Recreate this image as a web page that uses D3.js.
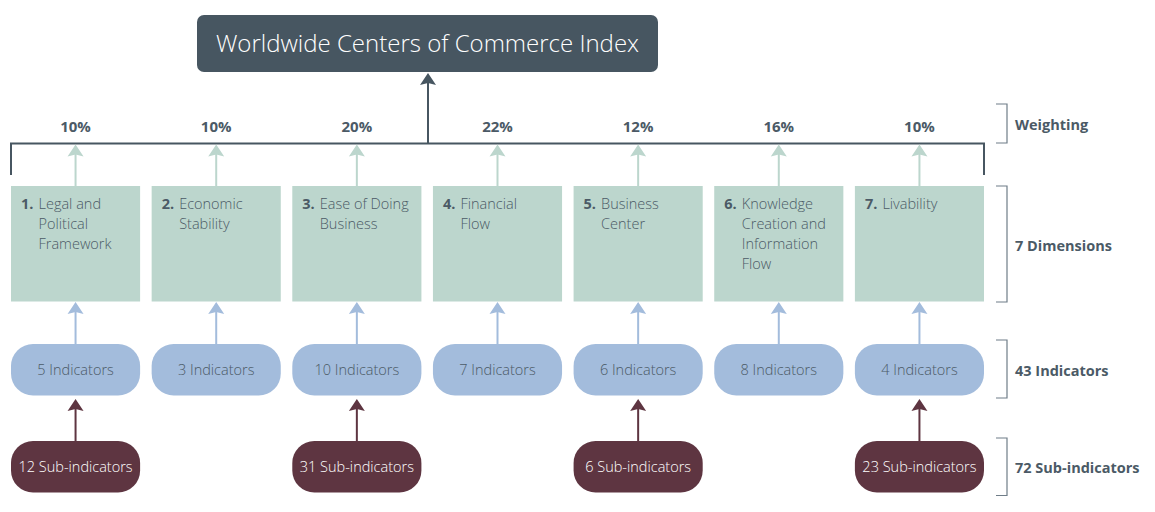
<!DOCTYPE html>
<html>
<head>
<meta charset="utf-8">
<script src="https://cdn.jsdelivr.net/npm/d3@7"></script>
<style>
  html, body { margin: 0; padding: 0; background: #fff; }
  svg { display: block; font-family: "Open Sans", "Noto Sans", sans-serif; }
</style>
</head>
<body>
<svg id="chart" width="1155" height="512"></svg>
<script>
// ---- data ----
const title = "Worldwide Centers of Commerce Index";
const dimNumbers = ["1.", "2.", "3.", "4.", "5.", "6.", "7."];
const dimLines = [
  ["Legal and", "Political", "Framework"],
  ["Economic", "Stability"],
  ["Ease of Doing", "Business"],
  ["Financial", "Flow"],
  ["Business", "Center"],
  ["Knowledge", "Creation and", "Information", "Flow"],
  ["Livability"]
];
const weights = [10, 10, 20, 22, 12, 16, 10];
const indicators = [5, 3, 10, 7, 6, 8, 4];
const subIndicators = [12, null, 31, null, 6, null, 23];
const levelLabels = ["Weighting", "7 Dimensions", "43 Indicators", "72 Sub-indicators"];

// ---- styles ----
const C = {
  dark: "#475661",
  text: "#4b5a66",
  green: "#bcd6cd",
  blue: "#a3bcdc",
  maroon: "#5e3541",
  bracket: "#6f7d88"
};

const svg = d3.select("#chart");
const x = d3.scaleBand().domain(d3.range(dimNumbers.length)).range([11, 984]).paddingInner(0.082);
const bw = x.bandwidth();
const cx = i => x(i) + bw / 2;

// row geometry
const Y = { lineY: 143.5, dimTop: 186, dimBot: 301.5, indTop: 344, indBot: 395.5, subTop: 441, subBot: 492.5 };

function arrowHead(g, xc, tipY, color, w = 16, h = 12) {
  g.append("path")
    .attr("d", `M${xc},${tipY} L${xc + w / 2},${tipY + h} L${xc},${tipY + h - 2} L${xc - w / 2},${tipY + h} Z`)
    .attr("fill", color);
}
function arrow(g, xc, fromY, tipY, color) {
  g.append("line").attr("x1", xc).attr("x2", xc).attr("y1", fromY).attr("y2", tipY + 8)
    .attr("stroke", color).attr("stroke-width", 2);
  arrowHead(g, xc, tipY, color);
}

// ---- title ----
const titleBox = { x0: 197, x1: 658, y0: 15, y1: 72 };
svg.append("rect").attr("x", titleBox.x0).attr("y", titleBox.y0)
  .attr("width", titleBox.x1 - titleBox.x0).attr("height", titleBox.y1 - titleBox.y0)
  .attr("rx", 7).attr("fill", C.dark);
svg.append("text").attr("x", (titleBox.x0 + titleBox.x1) / 2).attr("y", 42)
  .attr("text-anchor", "middle").attr("dominant-baseline", "central")
  .attr("fill", "#fff").attr("font-size", 24).attr("font-weight", 300).text(title);

// ---- top connector ----
const gTop = svg.append("g");
gTop.append("path")
  .attr("d", `M${x(0)},175 V${Y.lineY} H${x(6) + bw} V175`)
  .attr("fill", "none").attr("stroke", C.dark).attr("stroke-width", 2);
arrow(gTop, 428, Y.lineY, 73, C.dark);

// ---- weights ----
svg.append("g").selectAll("text").data(weights).join("text")
  .attr("x", (d, i) => cx(i)).attr("y", 125.5)
  .attr("text-anchor", "middle").attr("dominant-baseline", "central")
  .attr("font-size", 15).attr("font-weight", 700).attr("fill", C.text)
  .text(d => d + "%");

// ---- dimensions ----
const gDim = svg.append("g");
dimNumbers.forEach((num, i) => {
  arrow(gDim, cx(i), Y.dimTop, Y.lineY + 1, C.green);
  gDim.append("rect").attr("x", x(i)).attr("y", Y.dimTop).attr("width", bw)
    .attr("height", Y.dimBot - Y.dimTop).attr("fill", C.green);
  gDim.append("text").attr("x", x(i) + 10).attr("y", 209)
    .attr("font-size", 14.5).attr("font-weight", 700).attr("fill", C.text).text(num);
  const t = gDim.append("text").attr("font-size", 14.5).attr("fill", C.text).attr("font-weight", 300);
  dimLines[i].forEach((ln, j) => {
    t.append("tspan").attr("x", x(i) + 27.5).attr("y", 209 + j * 20).text(ln);
  });
});

// ---- indicators ----
const gInd = svg.append("g");
indicators.forEach((n, i) => {
  arrow(gInd, cx(i), Y.indTop, Y.dimBot + 0.5, C.blue);
  gInd.append("rect").attr("x", x(i)).attr("y", Y.indTop).attr("width", bw)
    .attr("height", Y.indBot - Y.indTop).attr("rx", 22).attr("fill", C.blue);
  gInd.append("text").attr("x", cx(i)).attr("y", (Y.indTop + Y.indBot) / 2 - 0.5)
    .attr("text-anchor", "middle").attr("dominant-baseline", "central")
    .attr("font-size", 14.5).attr("font-weight", 300).attr("fill", C.text)
    .text(n + " Indicators");
});

// ---- sub-indicators ----
const gSub = svg.append("g");
subIndicators.forEach((n, i) => {
  if (n == null) return;
  arrow(gSub, cx(i), Y.subTop, Y.indBot + 3.5, C.maroon);
  gSub.append("rect").attr("x", x(i)).attr("y", Y.subTop).attr("width", bw)
    .attr("height", Y.subBot - Y.subTop).attr("rx", 22).attr("fill", C.maroon);
  gSub.append("text").attr("x", cx(i)).attr("y", (Y.subTop + Y.subBot) / 2 - 0.5)
    .attr("text-anchor", "middle").attr("dominant-baseline", "central")
    .attr("font-size", 14.5).attr("font-weight", 300).attr("fill", "#fff")
    .text(n + " Sub-indicators");
});

// ---- right-hand level brackets ----
const levelSpans = [[104, 143], [186, 302], [340, 398], [438, 495.5]];
const gLev = svg.append("g");
levelLabels.forEach((lab, i) => {
  const [y0, y1] = levelSpans[i];
  gLev.append("path").attr("d", `M996,${y0} H1007 V${y1} H996`)
    .attr("fill", "none").attr("stroke", C.bracket).attr("stroke-width", 1.2);
  gLev.append("text").attr("x", 1015).attr("y", (y0 + y1) / 2 + 1)
    .attr("dominant-baseline", "central").attr("font-size", 14.5).attr("font-weight", 700)
    .attr("fill", C.text).text(lab);
});
</script>
</body>
</html>
